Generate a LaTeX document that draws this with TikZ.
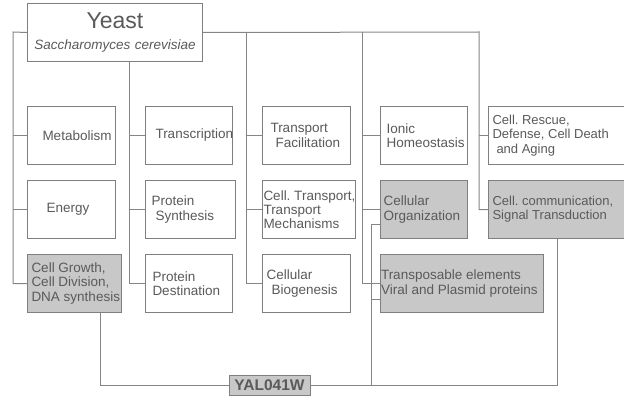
\documentclass[tikz,border=0pt]{standalone}
\usepackage{fontspec}
\setmainfont{Liberation Sans}
\usetikzlibrary{positioning}
\definecolor{wiregray}{HTML}{858585}
\definecolor{boxgray}{HTML}{7F7F7F}
\definecolor{hitgray}{HTML}{C8C8C8}
\definecolor{txtgray}{HTML}{5A5A5A}
\newcommand{\catfont}{\frenchspacing\fontsize{13.5}{14.3}\selectfont}
\newcommand{\sidefont}{\frenchspacing\fontsize{13}{14.2}\selectfont}

\begin{document}
\begin{tikzpicture}[x=1pt, y=-1pt, node distance=15pt]
  \tikzstyle{catbox} = [draw=boxgray, line width=1pt, fill=white, minimum height=58pt, inner ysep=0pt, align=flush left, font=\catfont, text=txtgray]
  \tikzstyle{hitbox} = [catbox, fill=hitgray]
  \tikzstyle{wire} = [draw=wiregray, line width=1pt]
  \useasboundingbox (0,0) rectangle (624,401);

  % root
  \node[catbox, anchor=north west, text width=175pt, inner xsep=0pt, align=center] at (27,3) (yeast) {{\fontsize{23}{23}\selectfont Yeast}\\[6.7pt]{\itshape Saccharomyces cerevisiae}};

  % first column
  \node[catbox, below=44pt of yeast.south west, anchor=north west, inner xsep=15pt, text width=58pt] (met) {Metabolism};
  \node[catbox, below=of met.south west, anchor=north west, inner xsep=19pt, text width=50pt] (energy) {Energy};
  \node[hitbox, below=of energy.south west, anchor=north west, inner xsep=4pt, text width=86pt] (growth) {Cell Growth,\\Cell Division,\\\mbox{DNA synthesis}};

  % second column
  \node[catbox, right=29pt of met.north east, anchor=north west, inner xsep=10pt, text width=67pt] (transc) {Transcription};
  \node[catbox, below=of transc.south west, anchor=north west, inner xsep=6pt, text width=78pt] (synth) {Protein\\\hspace*{4pt}Synthesis};
  \node[catbox, below=of synth.south west, anchor=north west, inner xsep=7pt, text width=73pt] (dest) {Protein\\Destination};

  % third column
  \node[catbox, right=29pt of transc.north east, anchor=north west, inner xsep=8pt, text width=72pt] (facil) {Transport\\\hspace*{5pt}Facilitation};
  \node[catbox, below=of facil.south west, anchor=north west, inner xsep=1pt, text width=91pt] (ctrans) {\mbox{Cell. Transport,}\\Transport\\Mechanisms};
  \node[catbox, below=of ctrans.south west, anchor=north west, inner xsep=4pt, text width=80pt] (biogen) {Cellular\\\hspace*{5pt}Biogenesis};

  % fourth column
  \node[catbox, right=29pt of facil.north east, anchor=north west, inner xsep=6pt, text width=75pt] (ionic) {Ionic\\Homeostasis};
  \node[hitbox, below=of ionic.south west, anchor=north west, inner xsep=3pt, text width=81pt] (organ) {Cellular\\Organization};
  \node[hitbox, below=of organ.south west, anchor=north west, inner xsep=0.5pt, text width=162pt] (transpos) {Transposable elements\\Viral and Plasmid proteins};

  % fifth column
  \node[catbox, right=20pt of ionic.north east, anchor=north west, inner xsep=4pt, text width=130pt, font=\sidefont] (rescue) {Cell. Rescue,\\Defense, Cell Death\\\hspace*{4pt}and Aging};
  \node[hitbox, below=of rescue.south west, anchor=north west, inner xsep=4pt, text width=130pt, font=\sidefont] (comm) {Cell. communication,\\Signal Transduction};

  % the gene
  \node[hitbox, minimum height=20pt, minimum width=81pt, inner sep=0pt, align=center, font=\fontsize{15.5}{16}\selectfont\bfseries] at (269.5,385) (yal) {YAL041W};

  % tree
  \coordinate (bus1) at (13,32);
  \coordinate (bus2) at (129,32);
  \coordinate (bus3) at (246,32);
  \coordinate (bus4) at (362,32);
  \coordinate (bus5) at (479,32);
  \draw[wire] (yeast.west) -- (bus1) |- (growth.west);
  \draw[wire] (bus2 |- yeast.south) |- (dest.west);
  \draw[wire] (yeast.east) -- (bus5) |- (comm.west);
  \draw[wire] (bus3) |- (biogen.west);
  \draw[wire] (bus4) |- (transpos.west);
  \foreach \nd/\bs in {met/bus1, energy/bus1, transc/bus2, synth/bus2, facil/bus3, ctrans/bus3, ionic/bus4, organ/bus4, rescue/bus5}
    \draw[wire] (\nd.west) -- (\nd.west -| \bs);

  % links to the gene
  \coordinate (drop1) at (100,385);
  \coordinate (spine) at (371,385);
  \draw[wire] (growth.south -| drop1) -- (drop1) -- (yal.west);
  \draw[wire] (yal.east) -| (comm.south);
  \draw[wire] ([yshift=-15pt]organ.west) -| (spine);
  \draw[wire] ([yshift=-16pt]transpos.west) -| (spine);
\end{tikzpicture}
\end{document}
